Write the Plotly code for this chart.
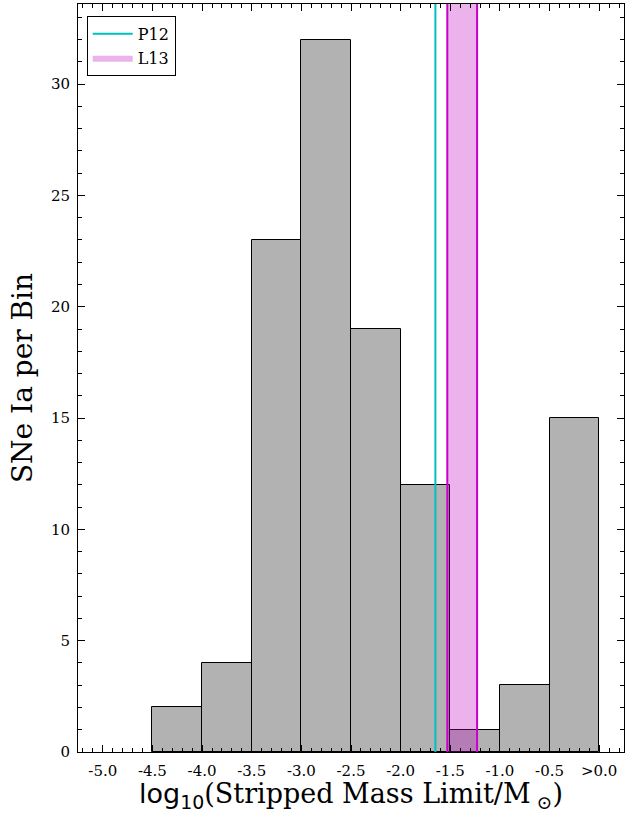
import plotly.graph_objects as go

# Data
bin_left = [-4.5, -4.0, -3.5, -3.0, -2.5, -2.0, -1.5, -1.0, -0.5]
counts = [2, 4, 23, 32, 19, 12, 1, 3, 15]
bin_width = 0.5
p12_value = -1.65
l13_range = [-1.53, -1.23]
xtick_vals = [-5.0, -4.5, -4.0, -3.5, -3.0, -2.5, -2.0, -1.5, -1.0, -0.5, 0.0]
xtick_text = ["-5.0", "-4.5", "-4.0", "-3.5", "-3.0", "-2.5", "-2.0", "-1.5", "-1.0", "-0.5", ">0.0"]
ytick_vals = [0, 5, 10, 15, 20, 25, 30]

x_range = [-5.25, 0.25]
y_max = max(counts) * 1.05
y_range = [0, y_max]

FONT = "DejaVu Serif"
MAG = "rgb(200,0,200)"
CYAN = "rgb(0,191,191)"

fig = go.Figure()

fig.add_trace(go.Bar(
    x=[b + bin_width / 2 for b in bin_left], y=counts, width=bin_width,
    marker=dict(color="rgb(178,178,178)", line=dict(color="black", width=1)),
    showlegend=False, hoverinfo="skip",
))

fig.add_trace(go.Scatter(
    x=[p12_value, p12_value], y=[0, y_max], mode="lines",
    line=dict(color=CYAN, width=2), name="P12",
))

fig.add_trace(go.Scatter(
    x=[l13_range[0], l13_range[1], l13_range[1], l13_range[0], l13_range[0]],
    y=[0, 0, y_max, y_max, 0], mode="lines", fill="toself",
    fillcolor="rgba(191,0,191,0.3)", line=dict(width=0, color="rgba(0,0,0,0)"),
    name="L13",
))
for xv in l13_range:
    fig.add_trace(go.Scatter(
        x=[xv, xv], y=[0, y_max], mode="lines",
        line=dict(color=MAG, width=2), showlegend=False, hoverinfo="skip",
    ))

axis_common = dict(
    showgrid=False, zeroline=False, showline=True, linecolor="black", linewidth=1,
    mirror="allticks", ticks="inside", ticklen=7, tickcolor="black", tickwidth=1,
    tickfont=dict(family=FONT, size=15, color="black"), automargin=False,
)

xtitle = ("<span style='font-family:DejaVu Sans'>log<sub>10</sub></span>"
          "(Stripped Mass Limit/M<sub> ⊙</sub>)")

fig.update_xaxes(
    range=x_range, tickvals=xtick_vals, ticktext=xtick_text,
    minor=dict(ticks="inside", dtick=0.1, tick0=0, ticklen=4, tickcolor="black"),
    ticklabelstandoff=5,
    title=dict(text=xtitle, font=dict(family=FONT, size=27, color="black"), standoff=6),
    **axis_common,
)
fig.update_yaxes(
    range=y_range, tickvals=ytick_vals,
    minor=dict(ticks="inside", dtick=1, tick0=0, ticklen=4, tickcolor="black"),
    ticklabelstandoff=4,
    title=dict(text="SNe Ia per Bin", font=dict(family=FONT, size=28, color="black"), standoff=10),
    **axis_common,
)

fig.update_layout(
    width=640, height=813,
    margin=dict(l=78, r=16, t=4, b=61, autoexpand=False),
    plot_bgcolor="white", paper_bgcolor="white",
    bargap=0,
    legend=dict(x=0.016, y=0.984, xanchor="left", yanchor="top",
                bgcolor="white", bordercolor="black", borderwidth=1,
                font=dict(family=FONT, size=16, color="black"),
                tracegroupgap=0, itemwidth=40),
    font=dict(family=FONT),
)

fig.write_html("out.html", config={"displayModeBar": False},
               post_script="document.body.style.margin='0';document.body.style.padding='0';")
